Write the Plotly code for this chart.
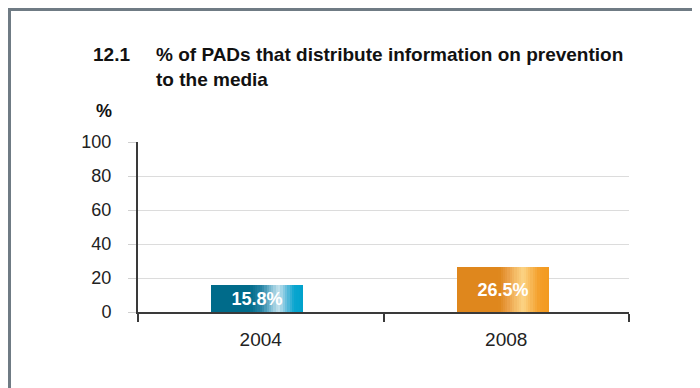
import plotly.graph_objects as go

# ---- data ----
categories = ["2004", "2008"]
values = [15.8, 26.5]
value_labels = ["15.8%", "26.5%"]
y_ticks = [0, 20, 40, 60, 80, 100]
title_number = "12.1"
title_text = "% of PADs that distribute information on prevention<br>to the media"
y_unit = "%"

# ---- styling ----
OFF = 8  # page body margin
W, H = 700 - OFF, 388 - OFF
L, R, T, B = 138 - OFF, 629 - OFF, 142 - OFF, 312 - OFF  # plot area in figure pixels

def px_x(p):
    p = p - OFF
    return (p - L) / (R - L)

def px_y(p):
    p = p - OFF
    return (B - p) / (B - T)

# gradient stops (fraction across bar, colour) for each bar
stops = [
    [(0.0, "#006b8a"), (0.42, "#006b8a"), (0.55, "#2a86a6"), (0.64, "#76b8d0"),
     (0.73, "#c6e3ee"), (0.82, "#62bcdb"), (0.9, "#0aa5cf"), (1.0, "#00a2cc")],
    [(0.0, "#df871d"), (0.46, "#df871d"), (0.56, "#eba048"), (0.65, "#f6c06c"),
     (0.72, "#fcd383"), (0.82, "#f7b44f"), (0.9, "#f49e28"), (1.0, "#f39a1f")],
]

def hex2rgb(h):
    h = h.lstrip("#")
    return tuple(int(h[i:i + 2], 16) for i in (0, 2, 4))

def color_at(st, f):
    for (f0, c0), (f1, c1) in zip(st[:-1], st[1:]):
        if f0 <= f <= f1:
            t = 0 if f1 == f0 else (f - f0) / (f1 - f0)
            a, b = hex2rgb(c0), hex2rgb(c1)
            return "rgb(%d,%d,%d)" % tuple(round(a[i] + (b[i] - a[i]) * t) for i in range(3))
    return st[-1][1]

bar_w = 0.375
bar_off = -bar_w / 2 - 0.014
n_strips = 40
step = bar_w / n_strips

fig = go.Figure()
for i in range(n_strips):
    f = (i + 0.5) / n_strips
    fig.add_trace(go.Bar(
        x=categories, y=values,
        width=step * 1.6 if i < n_strips - 1 else step,
        offset=bar_off + i * step,
        marker=dict(color=[color_at(s, f) for s in stops], line=dict(width=0)),
        hoverinfo="skip", showlegend=False,
    ))

fig.add_trace(go.Bar(
    x=categories, y=values, width=bar_w, offset=bar_off,
    marker=dict(color="rgba(0,0,0,0)", line=dict(width=0)),
    text=value_labels, textposition="inside", insidetextanchor="middle",
    constraintext="none", textangle=0,
    textfont=dict(family="Liberation Sans, Arial", size=18, color="white", weight="bold"),
    showlegend=False,
))

frame_col = "#6f7b84"
title_font = dict(family="Liberation Sans, Arial", size=19, color="#111111", weight="bold")
fig.update_layout(
    width=W, height=H,
    margin=dict(l=L, r=W - R, t=T, b=H - B, pad=0),
    paper_bgcolor="white", plot_bgcolor="white",
    barmode="overlay", bargap=0,
    showlegend=False,
    font=dict(family="Liberation Sans, Arial, sans-serif", color="#222222"),
    xaxis=dict(
        type="category", showgrid=False, showline=True, linecolor="#3a3a3a", linewidth=2,
        ticks="outside", tickson="boundaries", ticklen=8, tickwidth=2, tickcolor="#3a3a3a",
        tickfont=dict(size=19, color="#222222"), ticklabelstandoff=9,
        range=[-0.5, 1.5], fixedrange=True,
    ),
    yaxis=dict(
        range=[0, 100], tickvals=y_ticks, showgrid=True, gridcolor="#dcdcdc", gridwidth=1,
        showline=True, linecolor="#3a3a3a", linewidth=2,
        ticks="outside", ticklen=8, tickcolor="#d0d0d0", tickwidth=1,
        tickfont=dict(size=18, color="#222222"), ticklabelstandoff=13,
        zeroline=False,
    ),
    shapes=[
        dict(type="line", xref="paper", yref="paper", x0=px_x(9.5), x1=px_x(9.5),
             y0=px_y(8), y1=px_y(400), line=dict(color=frame_col, width=3)),
        dict(type="line", xref="paper", yref="paper", x0=px_x(8), x1=px_x(710),
             y0=px_y(9.5), y1=px_y(9.5), line=dict(color=frame_col, width=3)),
        dict(type="line", xref="paper", yref="paper", x0=0, x1=0, y0=0, y1=px_y(320),
             line=dict(color="#3a3a3a", width=2)),
    ],
    annotations=[
        dict(text=title_number, xref="paper", yref="paper", x=px_x(91), y=px_y(42),
             xanchor="left", yanchor="top", showarrow=False, align="left", font=title_font),
        dict(text=title_text, xref="paper", yref="paper", x=px_x(154), y=px_y(42),
             xanchor="left", yanchor="top", showarrow=False, align="left", font=title_font),
        dict(text=y_unit, xref="paper", yref="paper", x=px_x(104), y=px_y(99),
             xanchor="center", yanchor="top", showarrow=False,
             font=dict(family="Liberation Sans, Arial", size=18, color="#111111", weight="bold")),
    ],
)

fig.write_html("out.html")
